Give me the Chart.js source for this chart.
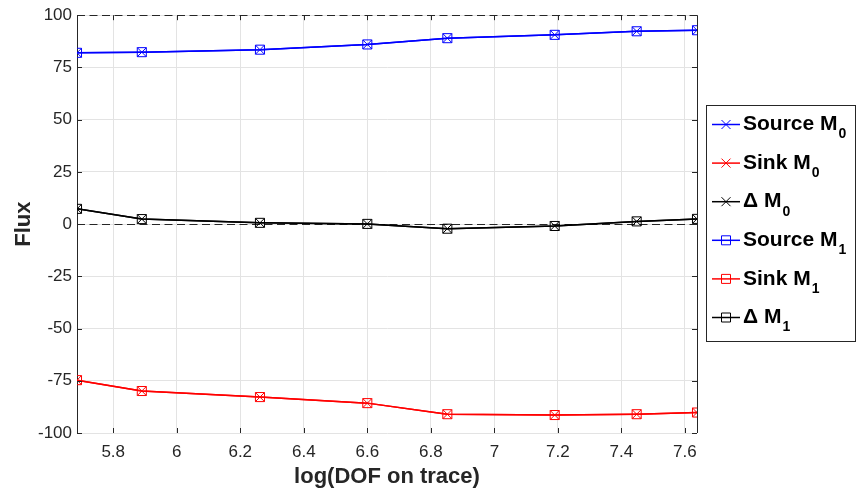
<!DOCTYPE html>
<html>
<head>
<meta charset="utf-8">
<script src="https://cdn.jsdelivr.net/npm/chart.js@4.4.0/dist/chart.umd.min.js"></script>
<style>
  html, body { margin: 0; padding: 0; background: #fff; }
  #wrap { width: 858px; height: 496px; }
</style>
</head>
<body>
<div id="wrap"><canvas id="fluxChart" width="858" height="496"></canvas></div>
<script>
// x positions (log DOF)
const logDof = [5.686, 5.89, 6.262, 6.6, 6.852, 7.19, 7.448, 7.638];
// flux values
const sourceM0 = [82.0, 82.3, 83.5, 86.0, 89.0, 90.6, 92.3, 92.8];
const sinkM0   = [-74.7, -79.9, -82.8, -85.7, -91.0, -91.4, -91.0, -90.2];
const deltaM0  = [7.3, 2.4, 0.6, 0.1, -2.2, -0.9, 1.3, 2.5];
const sourceM1 = [82.0, 82.3, 83.5, 86.0, 89.0, 90.6, 92.3, 92.8];
const sinkM1   = [-74.7, -79.9, -82.8, -85.7, -91.0, -91.4, -91.0, -90.2];
const deltaM1  = [7.3, 2.4, 0.6, 0.1, -2.2, -0.9, 1.3, 2.5];

const xTicks = [5.8, 6, 6.2, 6.4, 6.6, 6.8, 7, 7.2, 7.4, 7.6];
const yTicks = [-100, -75, -50, -25, 0, 25, 50, 75, 100];
const dashedLevels = [100, 0];

const legendItems = [
  { name: 'Source M', sub: '0', color: '#0000ff', marker: 'x' },
  { name: 'Sink M', sub: '0', color: '#ff0000', marker: 'x' },
  { name: '\u0394 M', sub: '0', color: '#000000', marker: 'x' },
  { name: 'Source M', sub: '1', color: '#0000ff', marker: 'sq' },
  { name: 'Sink M', sub: '1', color: '#ff0000', marker: 'sq' },
  { name: '\u0394 M', sub: '1', color: '#000000', marker: 'sq' }
];

const axisColor = '#262626';
const fontFam = '"Liberation Sans", Arial, Helvetica, sans-serif';

function pts(arr) {
  return arr.map((v, i) => ({ x: logDof[i], y: v }));
}

function series(label, data, color, style) {
  return {
    label: label,
    data: pts(data),
    borderColor: color,
    backgroundColor: 'rgba(0,0,0,0)',
    borderWidth: 1.5,
    pointStyle: style,
    pointRadius: 6.4,
    pointHoverRadius: 6.4,
    pointBorderWidth: 1,
    pointBorderColor: color,
    tension: 0
  };
}

const extras = {
  id: 'extras',
  beforeDatasetsDraw(chart) {
    const { ctx, chartArea: a, scales: { y } } = chart;
    ctx.save();
    ctx.strokeStyle = axisColor;
    ctx.lineWidth = 1;
    ctx.setLineDash([8, 4.5]);
    dashedLevels.forEach(v => {
      const py = Math.round(y.getPixelForValue(v)) + 0.5;
      ctx.beginPath();
      ctx.moveTo(a.left, py);
      ctx.lineTo(a.right, py);
      ctx.stroke();
    });
    ctx.restore();
  },
  afterDraw(chart) {
    const { ctx, chartArea: a, scales: { x, y } } = chart;
    ctx.save();
    ctx.strokeStyle = axisColor;
    ctx.lineWidth = 1;
    // right axis line
    ctx.beginPath();
    ctx.moveTo(Math.round(a.right) + 0.5, a.top);
    ctx.lineTo(Math.round(a.right) + 0.5, a.bottom);
    ctx.stroke();
    // inward ticks
    const tl = 5;
    yTicks.forEach(v => {
      const py = Math.round(y.getPixelForValue(v)) + 0.5;
      ctx.beginPath();
      ctx.moveTo(a.left, py); ctx.lineTo(a.left + tl, py);
      ctx.moveTo(a.right, py); ctx.lineTo(a.right - tl, py);
      ctx.stroke();
    });
    xTicks.forEach(v => {
      const px = Math.round(x.getPixelForValue(v)) + 0.5;
      ctx.beginPath();
      ctx.moveTo(px, a.top); ctx.lineTo(px, a.top + tl);
      ctx.moveTo(px, a.bottom); ctx.lineTo(px, a.bottom - tl);
      ctx.stroke();
    });

    // legend box
    const bx = 706.5, by = 105.5, bw = 149, bh = 236;
    ctx.fillStyle = '#ffffff';
    ctx.fillRect(bx, by, bw, bh);
    ctx.strokeStyle = axisColor;
    ctx.strokeRect(bx, by, bw, bh);
    legendItems.forEach((it, i) => {
      const cy = 124.5 + i * 38.6;
      ctx.strokeStyle = it.color;
      ctx.lineWidth = 1.5;
      ctx.beginPath();
      ctx.moveTo(712, cy); ctx.lineTo(740, cy);
      ctx.stroke();
      ctx.lineWidth = 1;
      const s = 4.5;
      ctx.beginPath();
      if (it.marker === 'x') {
        ctx.moveTo(726 - s, cy - s); ctx.lineTo(726 + s, cy + s);
        ctx.moveTo(726 - s, cy + s); ctx.lineTo(726 + s, cy - s);
      } else {
        ctx.rect(726 - s, cy - s, 2 * s, 2 * s);
      }
      ctx.stroke();
      ctx.fillStyle = '#000000';
      ctx.textBaseline = 'middle';
      ctx.textAlign = 'left';
      ctx.font = 'bold 21px ' + fontFam;
      ctx.fillText(it.name, 743, cy);
      const w = ctx.measureText(it.name).width;
      ctx.font = 'bold 14px ' + fontFam;
      ctx.fillText(it.sub, 743 + w + 1, cy + 10);
    });
    ctx.restore();
  }
};

const ctx = document.getElementById('fluxChart').getContext('2d');
const fluxChart = new Chart(ctx, {
  type: 'line',
  data: {
    datasets: [
      series('Source M0', sourceM0, '#0000ff', 'crossRot'),
      series('Sink M0', sinkM0, '#ff0000', 'crossRot'),
      series('\u0394 M0', deltaM0, '#000000', 'crossRot'),
      series('Source M1', sourceM1, '#0000ff', 'rect'),
      series('Sink M1', sinkM1, '#ff0000', 'rect'),
      series('\u0394 M1', deltaM1, '#000000', 'rect')
    ]
  },
  options: {
    responsive: false,
    animation: false,
    layout: { padding: { top: 15, right: 161, bottom: 0, left: 0 } },
    plugins: { legend: { display: false }, tooltip: { enabled: false } },
    scales: {
      x: {
        type: 'linear',
        min: logDof[0],
        max: logDof[logDof.length - 1],
        afterBuildTicks: s => { s.ticks = xTicks.map(v => ({ value: v })); },
        afterFit: s => { s.height = 63; },
        grid: { color: '#e3e3e3', drawTicks: false },
        border: { display: false },
        ticks: {
          color: axisColor,
          padding: 9,
          maxRotation: 0,
          autoSkip: false,
          font: { family: fontFam, size: 17 },
          callback: v => String(Math.round(v * 10) / 10)
        },
        title: {
          display: true,
          text: 'log(DOF on trace)',
          color: axisColor,
          padding: { top: 0, bottom: 6 },
          font: { family: fontFam, size: 22, weight: 'bold' }
        }
      },
      y: {
        min: -100,
        max: 100,
        afterBuildTicks: s => { s.ticks = yTicks.map(v => ({ value: v })); },
        afterFit: s => { s.width = 77; },
        grid: { color: '#e3e3e3', drawTicks: false },
        border: { display: true, color: axisColor, width: 1 },
        ticks: {
          color: axisColor,
          padding: 5,
          autoSkip: false,
          font: { family: fontFam, size: 17 }
        },
        title: {
          display: true,
          text: 'Flux',
          color: axisColor,
          padding: { top: 11, bottom: 0 },
          font: { family: fontFam, size: 22, weight: 'bold' }
        }
      }
    }
  },
  plugins: [extras]
});
</script>
</body>
</html>
